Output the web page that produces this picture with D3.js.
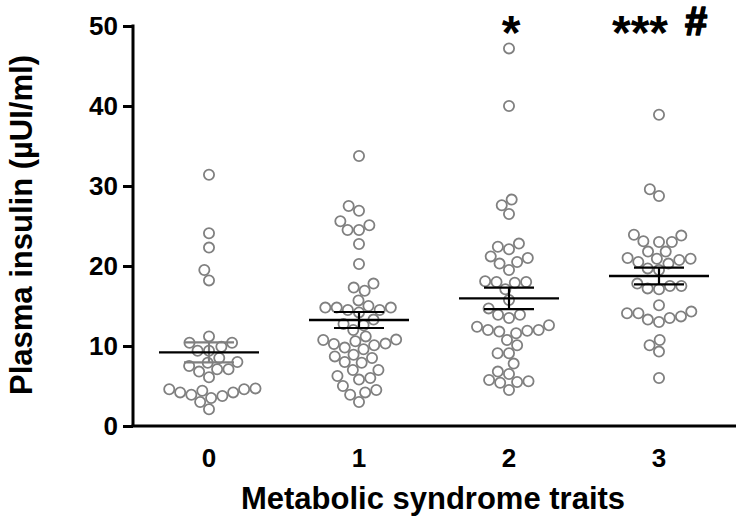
<!DOCTYPE html>
<html>
<head>
<meta charset="utf-8">
<script src="https://cdn.jsdelivr.net/npm/d3@7"></script>
<style>
  html, body { margin: 0; padding: 0; background: #fff; }
  svg { display: block; }
  text { font-family: "Liberation Sans", Arial, sans-serif; font-weight: bold; fill: #000; }
</style>
</head>
<body>
<svg id="chart" width="739" height="522"></svg>
<script>
// ---- data ----
const categories = ["0", "1", "2", "3"];
const group0 = [31.4, 24.1, 22.3, 19.5, 18.2, 11.2, 10.4, 10.4, 9.9, 9.4, 9.4, 8.5, 7.9, 8.0, 7.5, 7.1, 6.8, 7.1, 6.1, 4.2, 4.7, 3.9, 4.6, 3.5, 4.4, 4.6, 3.0, 3.75, 4.2, 2.1];
const group1 = [33.75, 26.9, 27.5, 24.5, 25.1, 24.5, 25.6, 22.75, 20.25, 17.3, 16.9, 17.8,
  15.7, 14.8, 14.8, 14.5, 14.2, 14.5, 14.8, 15.0, 12.6, 12.0, 11.2, 12.75, 13.3,
  10.8, 10.6, 10.25, 9.8, 8.9, 8.5, 8.7, 9.6, 10.1, 10.3, 10.75,
  8.0, 7.0, 6.0, 5.8, 6.25, 7.0, 7.9, 5.0, 4.2, 3.0, 3.9, 4.5];
const group2 = [47.2, 40.0, 28.3, 26.5, 27.6, 22.4, 21.2, 20.5, 22.1, 22.8, 20.3, 21.0, 19.5,
  18.0, 17.9, 17.1, 18.0, 18.1, 15.75, 14.7, 13.9, 13.5, 13.9,
  12.0, 11.9, 11.6, 12.4, 11.8, 12.0, 12.6, 10.75, 10.1, 9.1, 9.1, 7.8, 6.8,
  5.75, 5.5, 4.5, 5.4, 5.6, 6.5];
const group3 = [38.9, 29.6, 28.75, 23.8, 23.0, 23.0, 23.1, 23.9, 21.8, 21.8,
  20.9, 20.75, 20.3, 20.5, 20.9, 21.0, 19.7, 19.5, 17.5, 17.2, 17.1, 17.5, 17.8,
  15.1, 14.1, 13.5, 14.3, 13.0, 13.3, 13.7, 14.1, 10.1, 9.3, 10.75, 6.0];
const groups = [group0, group1, group2, group3];
const means = [9.2, 13.25, 15.95, 18.75];
const sems = [1.25, 1.0, 1.35, 1.05];
const yTicks = [0, 10, 20, 30, 40, 50];
const annotations = [
  { cat: "2", text: "*", kind: "star" },
  { cat: "3", text: "***", kind: "star" },
  { cat: "3", text: "#", kind: "hash" }
];
const xLabel = "Metabolic syndrome traits";
const yLabel = "Plasma insulin (\u00b5UI/ml)";

// ---- layout ----
const svg = d3.select("#chart");
const axisLeftX = 133, axisBottomY = 426, topY = 26, rightX = 736;

const x = d3.scaleBand().domain(categories).range([134, 734]).padding(0);
const y = d3.scaleLinear().domain([0, 50]).range([axisBottomY, topY]);

// y axis
const yAxis = d3.axisLeft(y).tickValues(yTicks).tickSize(10).tickPadding(5).tickFormat(d3.format("d"));
const gy = svg.append("g").attr("transform", `translate(${axisLeftX},0)`).call(yAxis);
gy.select(".domain").attr("stroke", "#000").attr("stroke-width", 3).attr("d", `M0,${topY - 1.5}V${axisBottomY}`);
gy.selectAll(".tick line").attr("stroke", "#000").attr("stroke-width", 3);
gy.selectAll(".tick text").style("font-size", "26px").style("font-family", "'Liberation Sans', Arial, sans-serif").style("font-weight", "bold").attr("fill", "#000");

// x axis
const xAxis = d3.axisBottom(x).tickSize(0).tickPadding(23);
const gx = svg.append("g").attr("transform", `translate(0,${axisBottomY})`).call(xAxis);
gx.select(".domain").attr("stroke", "#000").attr("stroke-width", 3).attr("d", `M${axisLeftX - 1.5},0H${rightX}`);
gx.selectAll(".tick text").style("font-size", "26px").style("font-family", "'Liberation Sans', Arial, sans-serif").style("font-weight", "bold").attr("fill", "#000");

// axis titles
svg.append("text").attr("x", 433).attr("y", 509).attr("text-anchor", "middle")
  .style("font-size", "31px").text(xLabel);
svg.append("text").attr("transform", `translate(32,225) rotate(-90)`)
  .attr("text-anchor", "middle").style("font-size", "31px").text(yLabel);

// beeswarm layout (deterministic greedy)
const R = 5.1, D = 11.4;
function swarm(values) {
  const pts = values.map(v => ({ v, py: y(v) })).sort((a, b) => a.v - b.v);
  const placed = [];
  for (const p of pts) {
    const cands = [0];
    for (const q of placed) {
      const dy = p.py - q.py;
      if (Math.abs(dy) < D) {
        const dx = Math.sqrt(D * D - dy * dy);
        cands.push(q.dx + dx, q.dx - dx);
      }
    }
    cands.sort((a, b) => Math.abs(a) - Math.abs(b) || a - b);
    for (const c of cands) {
      let ok = true;
      for (const q of placed) {
        const dd = Math.hypot(c - q.dx, p.py - q.py);
        if (dd < D - 1e-6) { ok = false; break; }
      }
      if (ok) { p.dx = c; break; }
    }
    placed.push(p);
  }
  return placed;
}

groups.forEach((vals, i) => {
  const cx = x(categories[i]) + x.bandwidth() / 2;
  const pts = swarm(vals);
  svg.append("g").selectAll("circle").data(pts).join("circle")
    .attr("cx", d => cx + d.dx).attr("cy", d => d.py).attr("r", R)
    .attr("fill", "none").attr("stroke", "#808080").attr("stroke-width", 1.8);
});

// mean and SEM
const semColors = ["#7f7f7f", "#000", "#000", "#000"];
categories.forEach((c, i) => {
  const cx = x(c) + x.bandwidth() / 2;
  const g = svg.append("g");
  const m = means[i], s = sems[i];
  g.append("line").attr("x1", cx).attr("x2", cx).attr("y1", y(m + s)).attr("y2", y(m - s))
    .attr("stroke", semColors[i]).attr("stroke-width", 2.2);
  [m + s, m - s].forEach(v => {
    g.append("line").attr("x1", cx - 25).attr("x2", cx + 25).attr("y1", y(v)).attr("y2", y(v))
      .attr("stroke", semColors[i]).attr("stroke-width", 2.2);
  });
  g.append("line").attr("x1", cx - 50).attr("x2", cx + 50).attr("y1", y(m)).attr("y2", y(m))
    .attr("stroke", "#000").attr("stroke-width", 2.4);
});

// significance annotations
annotations.forEach(a => {
  const cx = x(a.cat) + x.bandwidth() / 2;
  if (a.kind === "star") {
    const off = a.cat === "3" ? -19 : 2;
    svg.append("text").attr("x", cx + off).attr("y", 49).attr("text-anchor", "middle")
      .style("font-size", "48px").text(a.text);
  } else {
    svg.append("text").attr("x", cx + 37).attr("y", 35).attr("text-anchor", "middle")
      .style("font-size", "40px").attr("stroke", "#000").attr("stroke-width", 1.6)
      .attr("stroke-linejoin", "round").text(a.text);
  }
});
</script>
</body>
</html>
